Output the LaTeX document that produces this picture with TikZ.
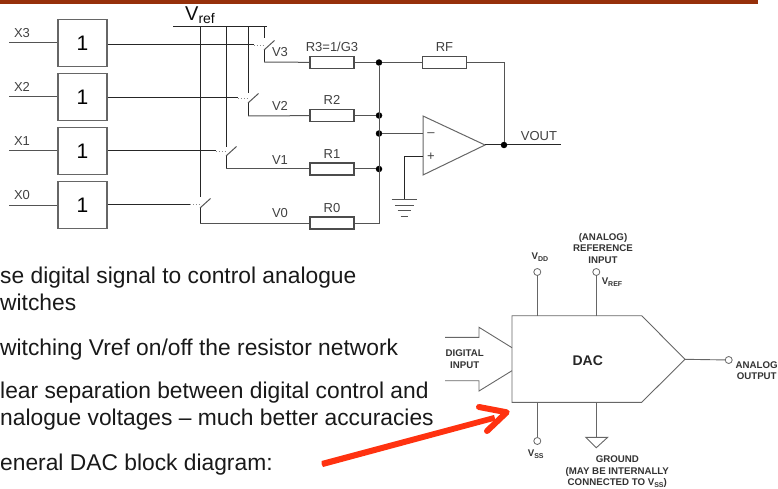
\documentclass[tikz,border=0pt]{standalone}
\usepackage{fontspec}
\setmainfont{Liberation Sans}
\usetikzlibrary{calc, positioning, arrows, shapes.geometric}

\definecolor{wire}{gray}{0.33}
\definecolor{barred}{HTML}{96300A}
\definecolor{pen}{HTML}{FF3210}

\tikzset{
    buffer/.style={draw=black!60, rectangle, line width=1.2pt, minimum width=49pt, minimum height=47.5pt, font=\fontsize{21}{21}\selectfont, inner sep=0pt},
    resistor/.style={draw=black!70, rectangle, line width=1.1pt, minimum width=44pt, minimum height=12pt, inner sep=0pt},
    junction/.style={circle, fill=black, minimum size=6.5pt, inner sep=0pt},
    pin/.style={draw=black!60, circle, fill=white, line width=0.8pt, minimum size=7pt, inner sep=0pt},
    lab/.style={font=\fontsize{13}{13}\selectfont, text=black!75, inner sep=0pt},
    tiny/.style={font=\fontsize{9.7}{11.5}\selectfont\bfseries, text=black!80, inner sep=0pt, align=center},
    body/.style={font=\fontsize{22.8}{22.8}\selectfont, text=black!90, anchor=base west, inner sep=0pt},
    wireline/.style={draw=wire, line width=1pt},
    blackline/.style={draw=black!85, line width=1pt},
    dotline/.style={draw=black!45, line width=0.9pt, dotted},
    dacline/.style={draw=black!60, line width=0.9pt}
}

\begin{document}
\begin{tikzpicture}[x=1pt, y=-1pt]
    \useasboundingbox (0, 0) rectangle (778, 489);
    \clip (0, 0) rectangle (778, 489);

    \fill[barred] (0, 0) rectangle (758, 4);

    % digital buffers
    \node[buffer] (B3) at (82.5, 43) {1};
    \node[buffer, below=5.3pt of B3] (B2) {1};
    \node[buffer, below=5.3pt of B2] (B1) {1};
    \node[buffer, below=5.3pt of B1] (B0) {1};

    \foreach \n/\yy in {3/33, 2/87, 1/141, 0/195} {
        \coordinate (I\n) at (9, 0 |- B\n);
        \draw[wireline] (I\n) -- (B\n);
        \node[lab] (X\n) at (22, \yy) {X\n};
    }

    % vref rail and switches
    \coordinate (RL) at (173, 27);
    \coordinate (RR) at (267, 27);
    \draw[blackline] (RL) -- (RR);
    \node[font=\fontsize{20}{20}\selectfont, inner sep=0pt, text=black!95] (Vref) at (200, 15) {V\raisebox{-3pt}{\fontsize{14}{14}\selectfont ref}};

    \foreach \n/\xx/\yy/\yb/\yc/\ye in {3/264/45/50/62/38, 2/248/98/103/116/93, 1/226/151/156/169/147, 0/200/204/208/223/197} {
        \coordinate (T\n) at (\xx, 27);
        \coordinate (E\n) at (\xx, \ye);
        \coordinate (S\n) at (\xx, \yb);
        \coordinate (A\n) at (\xx+10.5, \yb-9.5);
        \coordinate (C\n) at (\xx, \yc);
        \coordinate (G\n) at (\xx-10, \yy);
        \coordinate (H\n) at (\xx, \yy);
        \draw[blackline] (T\n) -- (E\n);
        \draw[blackline] (B\n.east |- G\n) -- (G\n);
        \draw[dotline] (G\n) -- (H\n);
        \draw[wireline] (S\n) -- (A\n);
        \draw[blackline] (S\n) -- (C\n);
    }

    % summing network
    \node[resistor] (R3) at (332, 62.5) {};
    \node[resistor] (R2) at (332, 115.5) {};
    \node[resistor] (R1) at (332, 169) {};
    \node[resistor] (R0) at (332, 223) {};
    \node[resistor] (RF) at (444.5, 62.5) {};
    \node[lab, above=4pt of R3] (L3) {R3=1/G3};
    \node[lab, above=4pt of R2] (L2) {R2};
    \node[lab, above=4pt of R1] (L1) {R1};
    \node[lab, above=4pt of R0] (L0) {R0};
    \node[lab, above=4pt of RF] (LF) {RF};
    \node[lab] (V3) at (280, 52.5) {V3};
    \node[lab] (V2) at (280, 106) {V2};
    \node[lab] (V1) at (280, 160) {V1};
    \node[lab] (V0) at (280, 213) {V0};

    \draw[wireline] (C3) -- (R3);
    \draw[wireline] (C2) -- (R2);
    \draw[wireline] (C1) -- (R1);
    \draw[wireline] (C0) -- (R0);

    \node[junction] (J3) at (379, 62.5) {};
    \node[junction] (J2) at (379, 115.5) {};
    \node[junction] (JM) at (379, 133.5) {};
    \node[junction] (J1) at (379, 169) {};
    \coordinate (J0) at (379, 223);
    \draw[wireline] (R3) -- (J3);
    \draw[wireline] (R2) -- (J2);
    \draw[wireline] (R1) -- (J1);
    \draw[wireline] (R0) -- (J0) -- (J3);
    \draw[wireline] (J3) -- (RF);

    % op amp
    \coordinate (P1) at (423, 116);
    \coordinate (P2) at (423, 175);
    \coordinate (P3) at (485, 145);
    \coordinate (PM) at (423, 133.5);
    \coordinate (PP) at (423, 157);
    \draw[draw=black!60, line width=1pt] (P1) -- (P2) -- (P3) -- cycle;
    \node[lab] (MI) at (431, 134.5) {--};
    \node[lab] (PL) at (431, 157) {+};
    \node[junction] (JO) at (504, 145) {};
    \coordinate (OE) at (561, 145);
    \node[lab] (VOUT) at (539, 136) {VOUT};
    \draw[wireline] (JM) -- (PM);
    \draw[blackline] (P3) -- (JO) -- (OE);
    \draw[wireline] (RF) -| (JO);
    \coordinate (GN) at (404, 199);
    \draw[blackline] (PP) -| (GN);
    \draw[wireline] (391.5, 199) -- (417, 199);
    \draw[wireline] (395, 205) -- (413.5, 205);
    \draw[wireline] (397.5, 210.5) -- (411, 210.5);
    \draw[wireline] (400.5, 216.5) -- (408, 216.5);

    % dac block
    \coordinate (D1) at (512, 315.7);
    \coordinate (D2) at (641.7, 315.7);
    \coordinate (D3) at (685, 359.3);
    \coordinate (D4) at (641.7, 402.3);
    \coordinate (D5) at (512, 402.3);
    \draw[dacline] (D1) -- (D2) -- (D3) -- (D4) -- (D5) -- cycle;
    \node[font=\fontsize{14}{14}\selectfont\bfseries, text=black!85, inner sep=0pt] (DAC) at (587.7, 361) {DAC};

    \draw[dacline] (445, 337.3) -- (479, 337.3) -- (479, 327.3) -- (512, 347.7);
    \draw[dacline] (445, 380.7) -- (479, 380.7) -- (479, 391) -- (512, 370.7);
    \node[tiny] (DI) at (464.7, 359.3) {DIGITAL\\INPUT};

    \node[pin] (VDD) at (537.3, 272) {};
    \node[pin] (REF) at (596.3, 272) {};
    \node[pin] (VSS) at (537.3, 441) {};
    \node[pin] (OUT) at (728.7, 360) {};
    \coordinate (TD) at (537.3, 315.7);
    \coordinate (TR) at (596.3, 315.7);
    \coordinate (BS) at (537.3, 402.3);
    \coordinate (BG) at (596.3, 402.3);
    \coordinate (GT) at (596.3, 437.3);
    \draw[dacline] (VDD) -- (TD);
    \draw[dacline] (REF) -- (TR);
    \draw[dacline] (VSS) -- (BS);
    \draw[dacline] (D3) -- (OUT);
    \draw[dacline] (BG) -- (GT);
    \draw[dacline] (585.7, 437.3) -- (607.7, 437.3) -- (596.3, 447.7) -- cycle;

    \node[tiny] (LREF) at (603, 248.5) {(ANALOG)\\REFERENCE\\INPUT};
    \node[tiny] (LDD) at (540, 257) {V\raisebox{-1.5pt}{\fontsize{7}{7}\selectfont DD}};
    \node[tiny] (LVR) at (612, 282) {V\raisebox{-1.5pt}{\fontsize{7}{7}\selectfont REF}};
    \node[tiny] (LSS) at (535.7, 454) {V\raisebox{-1.5pt}{\fontsize{7}{7}\selectfont SS}};
    \node[tiny] (LG) at (617.3, 472) {GROUND\\(MAY BE INTERNALLY\\CONNECTED TO V\raisebox{-1.5pt}{\fontsize{7}{7}\selectfont SS})};
    \node[tiny] (LO) at (756.7, 370.7) {ANALOG\\OUTPUT};

    % slide text
    \node[body] (T1a) at (0, 283) {se digital signal to control analogue};
    \node[body] (T1b) at (0, 310.7) {witches};
    \node[body] (T2a) at (0, 355) {witching Vref on/off the resistor network};
    \node[body] (T3a) at (0, 398) {lear separation between digital control and};
    \node[body] (T3b) at (0, 425.7) {nalogue voltages -- much better accuracies};
    \node[body] (T4a) at (0, 470.7) {eneral DAC block diagram:};

    % red pen arrow
    \coordinate (AS) at (321.7, 464.3);
    \coordinate (AT) at (506.7, 412.3);
    \fill[pen] (AS) -- (321.5, 461) -- (494, 415) -- (495.5, 420.5) -- (323, 467) -- cycle;
    \draw[pen, line width=6pt, line cap=round, line join=round] (479, 407) -- (AT) -- (487, 431);

\end{tikzpicture}
\end{document}
